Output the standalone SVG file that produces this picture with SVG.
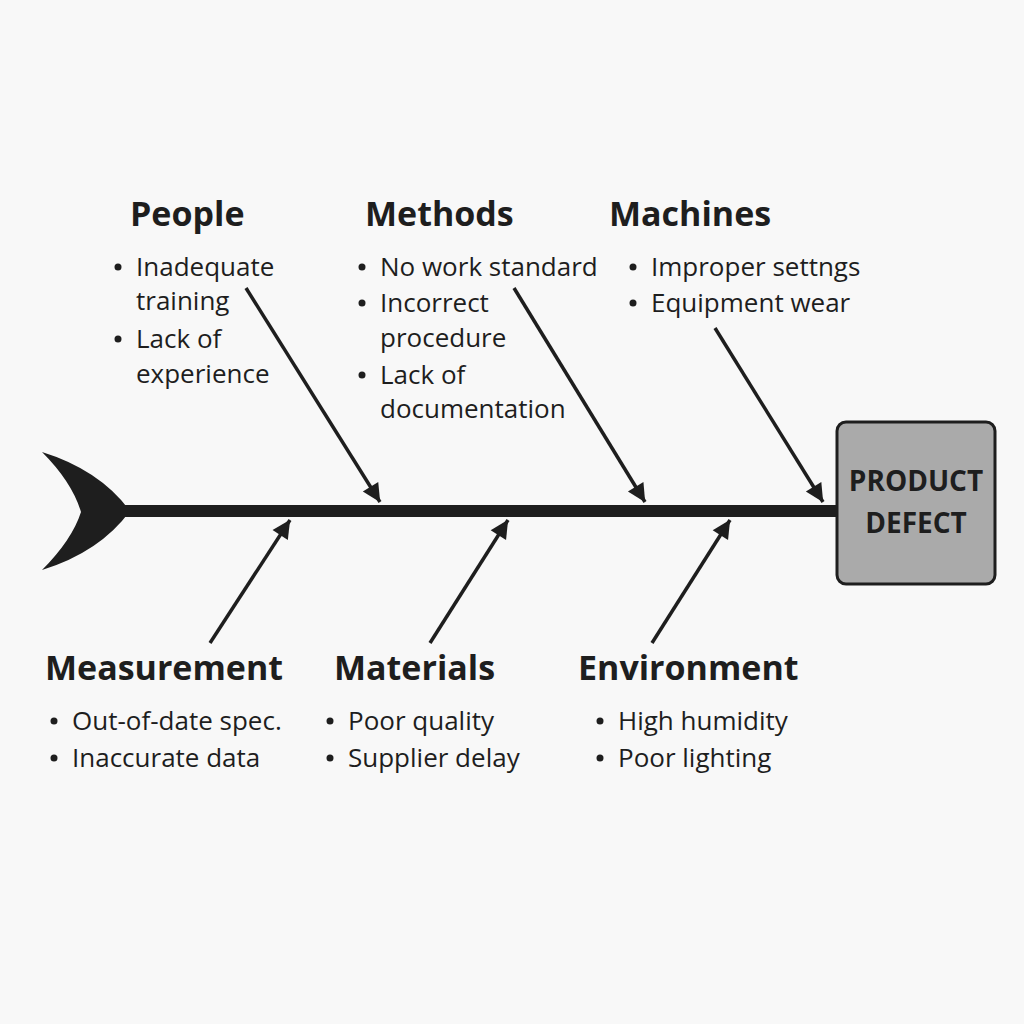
<svg xmlns="http://www.w3.org/2000/svg" width="1024" height="1024" viewBox="0 0 1024 1024">
<style>
.t{font-family:"Open Sans","Noto Sans",sans-serif;font-weight:700;font-size:34px;fill:#1e1e1e}
.b{font-family:"Open Sans","Noto Sans",sans-serif;font-size:26px;fill:#1e1e1e}
.d{fill:#1e1e1e}
.a{stroke:#1e1e1e;stroke-width:3.5;fill:none;marker-end:url(#ah)}
</style>
<defs><marker id="ah" viewBox="0 0 10 10" refX="10" refY="5" markerWidth="7" markerHeight="7" markerUnits="userSpaceOnUse" orient="auto" style="overflow:visible"><path d="M0,0 L10,5 L0,10 z" fill="#1e1e1e" transform="scale(2.6) translate(-6,-3.1)"/></marker></defs>
<rect width="1024" height="1024" fill="#f8f8f8"/>
<g id="spine">
<path d="M42,452 Q100,470 130,511 Q100,552 42,570 Q72,540 81,512 Q72,482 42,452 z" fill="#1e1e1e"/>
<rect x="125" y="505" width="714" height="12" fill="#1e1e1e"/>
</g>
<g id="effect">
<rect x="837" y="422" width="158" height="162" rx="9" fill="#aaaaaa" stroke="#1e1e1e" stroke-width="3"/>
<text x="916" y="491" text-anchor="middle" class="t" style="font-size:28px">PRODUCT</text>
<text x="916" y="533" text-anchor="middle" class="t" style="font-size:28px">DEFECT</text>
</g>
<g id="connectors">
<line x1="246" y1="288" x2="380" y2="502" class="a"/>
<line x1="514" y1="288" x2="645" y2="502" class="a"/>
<line x1="715" y1="328" x2="823" y2="502" class="a"/>
<line x1="210" y1="643" x2="290" y2="520" class="a"/>
<line x1="430" y1="643" x2="508" y2="520" class="a"/>
<line x1="652" y1="643" x2="730" y2="520" class="a"/>
</g>
<g id="people">
<text x="130" y="226" class="t">People</text>
<circle cx="118" cy="267" r="3.5" class="d"/><text x="136" y="276" class="b">Inadequate</text>
<text x="136" y="310" class="b">training</text>
<circle cx="118" cy="339" r="3.5" class="d"/><text x="136" y="348" class="b">Lack of</text>
<text x="136" y="383" class="b">experience</text>
</g>
<g id="methods">
<text x="365" y="226" class="t">Methods</text>
<circle cx="362" cy="267" r="3.5" class="d"/><text x="380" y="276" class="b">No work standard</text>
<circle cx="362" cy="303" r="3.5" class="d"/><text x="380" y="312" class="b">Incorrect</text>
<text x="380" y="347" class="b">procedure</text>
<circle cx="362" cy="375" r="3.5" class="d"/><text x="380" y="384" class="b">Lack of</text>
<text x="380" y="418" class="b">documentation</text>
</g>
<g id="machines">
<text x="609" y="226" class="t">Machines</text>
<circle cx="633" cy="267" r="3.5" class="d"/><text x="651" y="276" class="b">Improper settngs</text>
<circle cx="633" cy="303" r="3.5" class="d"/><text x="651" y="312" class="b">Equipment wear</text>
</g>
<g id="measurement">
<text x="45" y="680" class="t">Measurement</text>
<circle cx="54" cy="721" r="3.5" class="d"/><text x="72" y="730" class="b">Out-of-date spec.</text>
<circle cx="54" cy="758" r="3.5" class="d"/><text x="72" y="767" class="b">Inaccurate data</text>
</g>
<g id="materials">
<text x="334" y="680" class="t">Materials</text>
<circle cx="330" cy="721" r="3.5" class="d"/><text x="348" y="730" class="b">Poor quality</text>
<circle cx="330" cy="758" r="3.5" class="d"/><text x="348" y="767" class="b">Supplier delay</text>
</g>
<g id="environment">
<text x="578" y="680" class="t">Environment</text>
<circle cx="600" cy="721" r="3.5" class="d"/><text x="618" y="730" class="b">High humidity</text>
<circle cx="600" cy="758" r="3.5" class="d"/><text x="618" y="767" class="b">Poor lighting</text>
</g>
</svg>
